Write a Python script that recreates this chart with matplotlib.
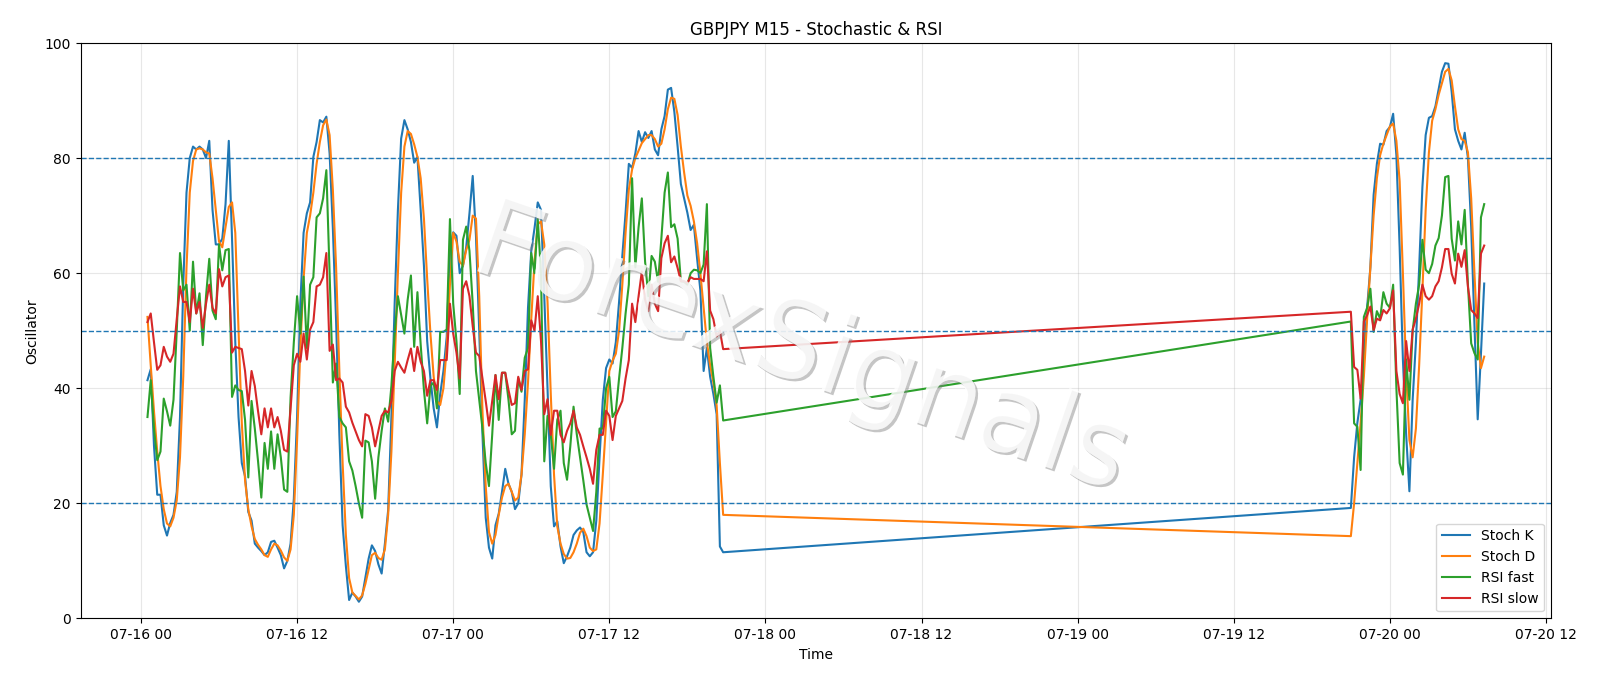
import numpy as np
import pandas as pd
import matplotlib
matplotlib.use("Agg")
import matplotlib.pyplot as plt
import matplotlib.dates as mdates
import matplotlib.patheffects as pe

# M15 bars: thursday/friday session, then the sunday open
times = pd.date_range("2020-07-16 00:30", periods=178, freq="15min").append(
    pd.date_range("2020-07-19 21:00", periods=42, freq="15min"))

stoch_k = [
    41.4, 43.3, 30, 21.5, 21.5, 16.2, 14.4, 16.6, 18, 22,
    35, 58, 74, 80, 82, 81.5, 82, 81.5, 80, 83,
    71, 65, 65, 66, 72, 83, 66, 48, 35, 27,
    24.7, 18.5, 17, 13, 12.3, 11.7, 11, 11.5, 13.3, 13.5,
    12.3, 11, 8.7, 10, 13, 20.8, 35, 54.7, 67, 70.4,
    72.3, 80.2, 82.8, 86.6, 86.2, 87.2, 80.8, 67.8, 51.5, 31.9,
    16.2, 9.1, 3.2, 4.5, 3.8, 2.9, 3.8, 7.1, 10.4, 12.7,
    11.7, 9.4, 7.8, 13, 18.8, 35, 54.7, 71, 83.4, 86.6,
    85, 82.8, 79.2, 80.2, 71, 61.3, 48.2, 41.7, 36.5, 33.2,
    39, 43, 48.9, 63.9, 67.1, 66.5, 60, 61.3, 64.5, 70.4,
    76.9, 66.5, 50, 32, 17.5, 12.3, 10.4, 16.2, 18.2, 22,
    26, 23.4, 22, 19, 20, 25, 38, 54, 63.9, 67.8,
    72.3, 71, 56, 40, 23, 16, 16.9, 12.5, 9.6, 10.8,
    12.3, 14.5, 15.3, 15.8, 15, 11.5, 10.8, 11.5, 17, 28,
    38, 43.5, 45, 44.3, 48, 55, 63, 70.5, 79, 78.3,
    80.8, 84.7, 82.8, 84.5, 83.5, 84.7, 81.5, 80.5, 85, 87.3,
    91.9, 92.2, 88, 82, 75.5, 73, 70.5, 67.5, 68.4, 62.5,
    57, 43, 47, 42, 39, 35.5, 12.5, 11.5,
    # sunday open
    19.2, 28, 34, 38, 45, 54, 61, 73.6, 79, 82.5,
    82.3, 84.7, 85.4, 87.7, 80.5, 64.5, 45, 32, 22.1, 38,
    48, 61, 75, 84, 87, 87.3, 89, 92, 95, 96.5,
    96.4, 91.5, 85, 83, 81.5, 84.4, 80, 68, 51, 34.6,
    46, 58.2,
]

stoch_d = [
    52.4, 44, 36, 29, 23, 19, 16.5, 16, 17.5, 20.5,
    28, 42, 61, 74, 79.5, 81.5, 81.7, 81.5, 81, 80.8,
    76.5, 71, 65.5, 64.5, 68, 71.5, 72.3, 67, 50, 34,
    24, 19, 16, 13.8, 12.8, 12, 11, 10.7, 12, 13,
    12.7, 11.8, 10.6, 10, 12, 18, 31, 47, 59, 67,
    70, 74, 79, 82.8, 85.7, 86.7, 84, 74.5, 61, 43,
    27, 14.5, 7, 4.5, 3.9, 3.3, 4, 6, 8.5, 11,
    11.4, 10.5, 10.2, 12, 18, 29, 44, 60, 74, 82,
    84.7, 84.2, 82.4, 80.2, 76.5, 69.5, 59, 49.5, 42, 37.8,
    37.1, 40, 46.9, 58, 67, 65.5, 62, 61.3, 64, 65.8,
    70, 69.5, 56, 36, 23, 15, 13, 14.5, 18, 21,
    23, 23.4, 22, 20.5, 21, 25, 32, 41, 52, 62,
    68.5, 69, 65, 55, 39, 25, 16, 13, 11.2, 10.4,
    10.5, 11.5, 13, 14.9, 15.6, 14.3, 12.3, 11.7, 12, 16.5,
    25, 34, 43, 44.8, 46, 50, 58, 67, 74.5, 78,
    80, 81.3, 82.6, 83.3, 84, 84, 83.3, 82, 82.5, 85,
    88.5, 90.5, 90.3, 87.5, 82, 77.5, 73.5, 71.7, 69, 65.2,
    60, 54, 48, 44, 41, 37, 27, 18,
    # sunday open
    14.3, 20, 27, 34, 42, 52, 61, 70, 76.5, 80.5,
    82.5, 84, 85.5, 86, 83, 76, 60, 43, 31, 28,
    33, 44, 57, 71, 81, 86.5, 88.5, 91, 93, 95,
    95.5, 93.5, 89, 85, 83.3, 83, 81, 73, 60, 48,
    43.5, 45.5,
]

rsi_fast = [
    35, 41.4, 33, 27.5, 29, 38.2, 36, 33.5, 38, 50,
    63.5, 57, 58, 50, 62, 53, 56.5, 47.5, 56, 62.5,
    53.5, 52, 65, 60.5, 64, 64.2, 38.5, 40.5, 39.7, 39.5,
    34.5, 24.5, 37.8, 33, 27.3, 21, 30.5, 26, 32.5, 26,
    32, 28, 22.4, 22, 38.4, 48, 56, 49.5, 59.4, 47,
    58, 59.3, 69.7, 70.4, 73, 77.9, 60, 41, 44.3, 35,
    33.9, 33.2, 27.3, 25.7, 23, 20, 17.5, 30.9, 30.6, 27.3,
    20.8, 28, 32.6, 36.5, 34.2, 40.4, 49.5, 56, 52.8, 49.5,
    55.4, 59.6, 47.2, 56.7, 47.6, 39.7, 33.9, 40.4, 41, 36.5,
    49.8, 49.8, 50.2, 69.4, 54.7, 48.2, 39, 65.8, 68.1, 63.9,
    54.7, 43, 38, 33, 27, 23, 32, 42.3, 34.5, 42.7,
    42.7, 38, 32, 32.6, 41.7, 39.4, 45.3, 47, 63.5, 60,
    69.4, 60, 27.3, 35.2, 31.9, 26, 34.5, 36.1, 27, 24.1,
    29.9, 36.8, 32, 28, 24, 19.8, 17.5, 15.2, 22, 33,
    33, 40, 42, 35, 36, 41.7, 47, 53, 58, 76.5,
    61, 68, 73, 62, 56, 63, 62, 58.5, 66, 74,
    77.5, 68, 68.5, 66, 58.6, 58.5, 58, 60, 60.6, 60.5,
    60, 61.5, 72, 47, 42, 37.5, 40.5, 34.4,
    # sunday open
    51.6, 33.9, 33.3, 25.8, 52.4, 54, 57.3, 49.8, 53.4, 52.1,
    56.7, 54.7, 54, 58, 40, 27, 25, 45, 38, 50,
    54.7, 58, 65.8, 60.6, 60, 61.6, 64.8, 66.1, 70, 76.7,
    76.9, 66, 62.2, 69, 65, 71, 58, 47.8, 46.1, 45,
    69.7, 72,
]

rsi_slow = [
    51.5, 53, 48, 43.2, 44, 47.2, 45.5, 44.6, 46, 52,
    57.7, 55, 55, 51.5, 57.3, 53, 55, 50.5, 54.7, 58,
    54, 53, 60.7, 57.7, 59.3, 59.6, 46.2, 47.2, 47, 46.8,
    43, 37, 43, 40.4, 36, 32, 36.5, 33.2, 36.5, 33.2,
    35, 32.6, 29.3, 29, 36.5, 44, 46, 44.6, 49.5, 45,
    50.2, 51.5, 57.7, 58, 59.3, 63.5, 46.5, 47.6, 41.4, 41.7,
    41, 36.8, 35.8, 34, 32.5, 31, 29.9, 35.5, 35.2, 33.2,
    29.9, 32.6, 35.2, 36.1, 35.8, 37.8, 43, 44.6, 43.6, 42.7,
    44.9, 46.9, 43, 47.2, 44.6, 43, 38.7, 41.4, 41.4, 39.7,
    44.9, 44.9, 44.9, 54.7, 49.5, 46.2, 41.7, 57.3, 58.6, 56,
    50.8, 46.2, 45.6, 41.7, 37.8, 33.5, 37.8, 42.3, 38.1, 42.7,
    42.7, 39.7, 37.1, 37.4, 42, 39.7, 43, 43.3, 51.8, 50,
    56, 48.2, 35.5, 38.1, 31.9, 36.1, 36.1, 31.9, 30.6, 32.6,
    33.9, 36.1, 33.2, 31.9, 29.9, 28, 26, 23.4, 29.3, 31.9,
    31.9, 36.1, 35.2, 31, 35.2, 36.5, 37.8, 41.7, 44.9, 54.7,
    51.5, 56, 60.3, 55.4, 53.4, 58, 54.7, 53.4, 62.6, 65.2,
    66.5, 61.9, 62.9, 60.9, 58.6, 58.6, 58.3, 59.3, 59, 59,
    59, 58.6, 63.8, 53.5, 52, 49, 50, 46.8,
    # sunday open
    53.3, 43.7, 43.2, 38.2, 51.6, 52.7, 54.2, 50.1, 52.1, 51.8,
    53.6, 53, 53.9, 57, 43, 39, 37.4, 48.2, 43, 50.2,
    52.1, 54.7, 58, 56, 55.4, 56, 57.7, 58.6, 61, 64.2,
    64.2, 59.9, 58.2, 63.4, 61.1, 64, 57.6, 53.6, 53, 52.2,
    63.4, 64.8,
]

levels = [20, 50, 80]

fig, ax = plt.subplots(figsize=(16, 6.86), dpi=100)
ax.plot(times, stoch_k, label="Stoch K", lw=1.5)
ax.plot(times, stoch_d, label="Stoch D", lw=1.5)
ax.plot(times, rsi_fast, label="RSI fast", lw=1.5)
ax.plot(times, rsi_slow, label="RSI slow", lw=1.5)
for lvl in levels:
    ax.axhline(lvl, ls="--", lw=1, color="tab:blue")

ax.set_ylim(0, 100)
ax.grid(alpha=0.3)
ax.xaxis.set_major_locator(mdates.HourLocator(byhour=[0, 12]))
ax.xaxis.set_major_formatter(mdates.DateFormatter("%m-%d %H"))
ax.set_title("GBPJPY M15 - Stochastic & RSI", fontsize=12)
ax.set_xlabel("Time")
ax.set_ylabel("Oscillator")
ax.legend(loc="lower right")

# watermark
ax.text(0.49, 0.465, "ForexSignals", transform=ax.transAxes, fontsize=78,
        color="white", alpha=0.6, rotation=-19, ha="center", va="center",
        zorder=10,
        path_effects=[pe.withSimplePatchShadow(offset=(1.8, -1.8), shadow_rgbFace="gray", alpha=0.45),
                      pe.Normal()])

fig.subplots_adjust(left=0.0504, right=0.9694, top=0.9373, bottom=0.0985)
fig.savefig("out.png")
